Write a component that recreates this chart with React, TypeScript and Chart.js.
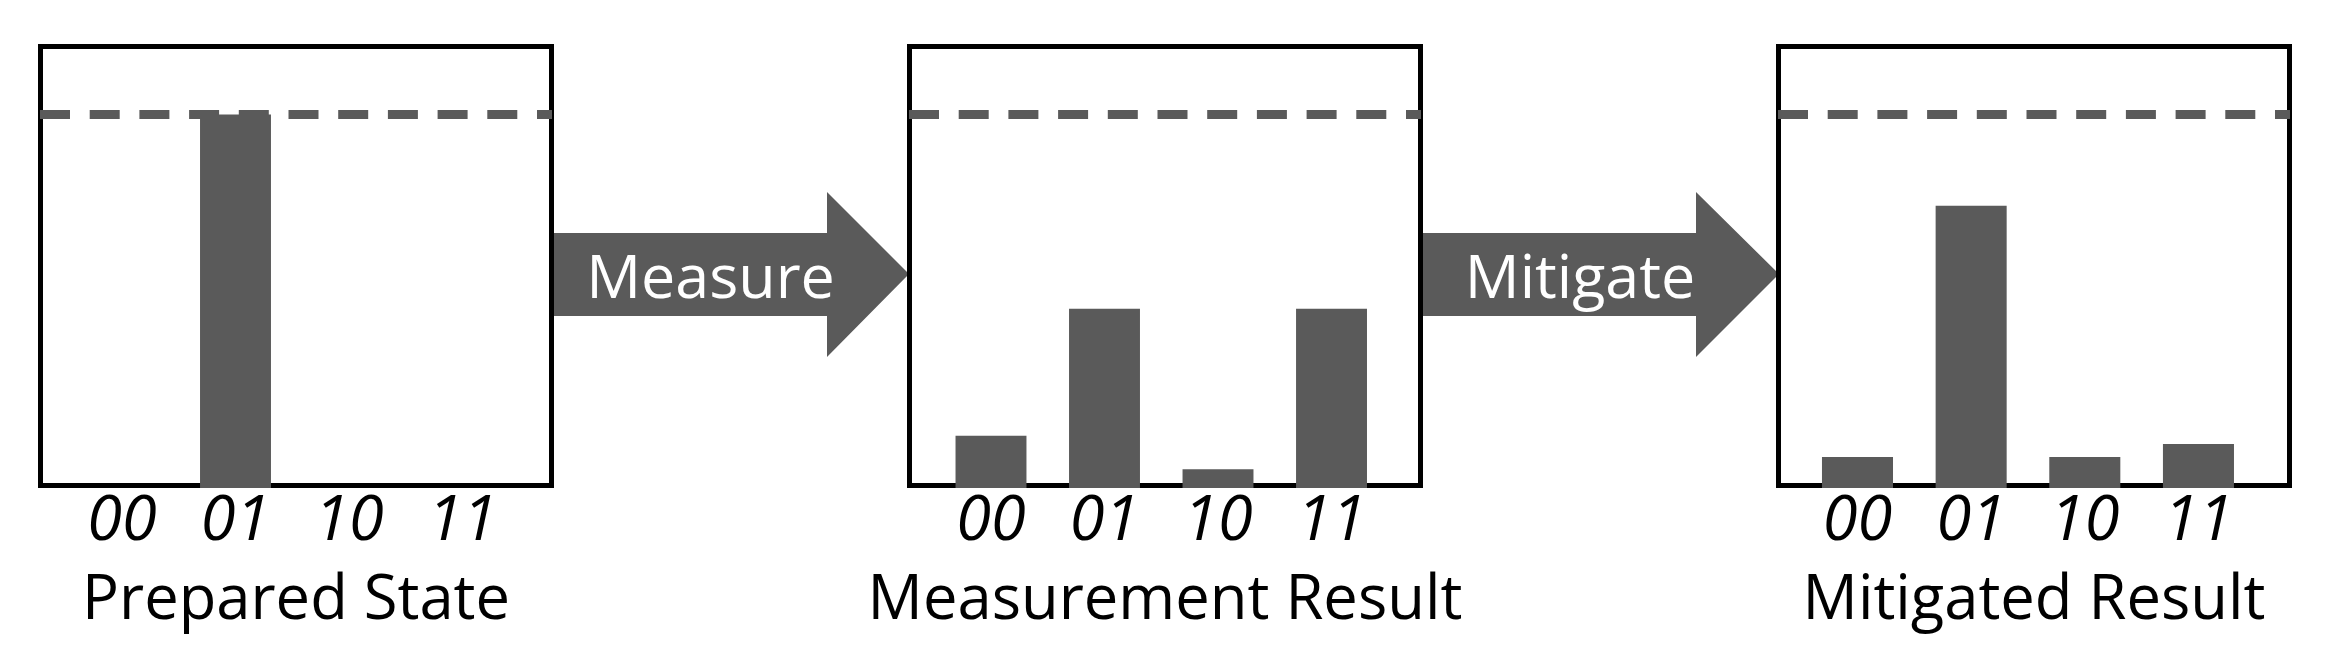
import React, { useEffect, useRef } from "react";
import { Chart, registerables } from "chart.js";

Chart.register(...registerables);

// ---------- data ----------
const categories = ["00", "01", "10", "11"];
const preparedState = [0, 1.0, 0, 0];
const measurementResult = [0.14, 0.48, 0.05, 0.48];
const mitigatedResult = [0.083, 0.756, 0.083, 0.118];
const panelTitles = ["Prepared State", "Measurement Result", "Mitigated Result"];
const arrowLabels = ["Measure", "Mitigate"];
const idealLevel = 1.0;

// ---------- style / layout ----------
const FONT = "'Open Sans', Lato, 'DejaVu Sans', sans-serif";
const BAR_COLOR = "#5a5a5a";
const CANVAS_W = 596;
const CANVAS_H = 656;
const PAD_X = 40;

const framePlugin = {
  id: "frame",
  beforeDatasetsDraw(chart: any) {
    const { ctx, chartArea: a } = chart;
    ctx.save();
    ctx.strokeStyle = "#000";
    ctx.lineWidth = 5;
    ctx.setLineDash([]);
    ctx.strokeRect(a.left + 2.5, a.top + 2.5, a.right - a.left - 5, a.bottom - a.top - 5);
    ctx.restore();
  },
  afterDatasetsDraw(chart: any, _args: any, opts: any) {
    const { ctx, chartArea: a } = chart;
    const y = chart.scales.y.getPixelForValue(opts.level);
    ctx.save();
    ctx.strokeStyle = BAR_COLOR;
    ctx.lineWidth = 9;
    ctx.lineCap = "butt";
    ctx.setLineDash([30, 19.7]);
    ctx.beginPath();
    ctx.moveTo(a.left + 2, y);
    ctx.lineTo(a.right - 2, y);
    ctx.stroke();
    ctx.restore();
  },
  afterDraw(chart: any, _args: any, opts: any) {
    const { ctx, chartArea: a } = chart;
    ctx.save();
    ctx.fillStyle = "#000";
    ctx.font = `61.5px ${FONT}`;
    ctx.textAlign = "center";
    ctx.textBaseline = "alphabetic";
    ctx.fillText(opts.title, (a.left + a.right) / 2, opts.titleBaseline);
    ctx.restore();
  },
};

type PanelProps = {
  values: number[];
  title: string;
  left: number;
  xMin: number;
  xMax: number;
};

function Panel({ values, title, left, xMin, xMax }: PanelProps) {
  const ref = useRef<HTMLCanvasElement | null>(null);
  useEffect(() => {
    if (!ref.current) return;
    const chart = new Chart(ref.current, {
      type: "bar",
      data: {
        datasets: [
          {
            data: categories.map((_, i) => ({ x: i, y: values[i] })),
            backgroundColor: BAR_COLOR,
            borderWidth: 0,
            barPercentage: 0.625,
            categoryPercentage: 1,
          },
        ],
      },
      plugins: [framePlugin],
      options: {
        animation: false,
        responsive: false,
        devicePixelRatio: 1,
        events: [],
        layout: { padding: { left: PAD_X, right: PAD_X, top: 44, bottom: 100 } },
        plugins: {
          legend: { display: false },
          tooltip: { enabled: false },
          frame: { level: idealLevel, title, titleBaseline: 619 },
        } as any,
        scales: {
          x: {
            type: "linear",
            min: xMin,
            max: xMax,
            offset: false,
            grid: { display: false, drawTicks: false, offset: false },
            border: { display: false },
            afterBuildTicks: (scale: any) => {
              scale.ticks = categories.map((_, i) => ({ value: i }));
            },
            ticks: {
              autoSkip: false,
              maxRotation: 0,
              minRotation: 0,
              padding: 1,
              color: "#000",
              font: { family: FONT, size: 63, style: "italic", lineHeight: "66px" },
              callback: (v: any) => categories[Math.round(Number(v))] ?? "",
            },
            title: { display: false },
          },
          y: {
            display: false,
            min: 0,
            max: 1.189,
          },
        },
      } as any,
    });
    return () => chart.destroy();
  }, [values, title, xMin, xMax]);

  return (
    <canvas
      ref={ref}
      width={CANVAS_W}
      height={CANVAS_H}
      style={{ position: "absolute", left: left - PAD_X, top: 0, width: CANVAS_W, height: CANVAS_H }}
    />
  );
}

const arrowGeom = [
  { xs: 553, xh: 827, xt: 909, tx: 710.5 },
  { xs: 1421, xh: 1696, xt: 1779, tx: 1580 },
];

export default function App() {
  return (
    <div
      style={{
        position: "absolute",
        left: 0,
        top: 0,
        width: 2334,
        height: 656,
        background: "#fff",
        overflow: "hidden",
      }}
    >
      <svg width={2334} height={656} style={{ position: "absolute", left: 0, top: 0 }}>
        {arrowGeom.map((g, i) => (
          <g key={i}>
            <polygon
              fill={BAR_COLOR}
              points={`${g.xs},233 ${g.xh},233 ${g.xh},192 ${g.xt},274 ${g.xh},357 ${g.xh},316 ${g.xs},316`}
            />
            <text
              x={g.tx}
              y={298}
              fill="#fff"
              textAnchor="middle"
              style={{ fontFamily: FONT, fontSize: 61 }}
            >
              {arrowLabels[i]}
            </text>
          </g>
        ))}
      </svg>
      <Panel values={preparedState} title={panelTitles[0]} left={38} xMin={-0.74} xMax={3.806} />
      <Panel values={measurementResult} title={panelTitles[1]} left={907} xMin={-0.74} xMax={3.806} />
      <Panel values={mitigatedResult} title={panelTitles[2]} left={1776} xMin={-0.717} xMax={3.823} />
    </div>
  );
}
